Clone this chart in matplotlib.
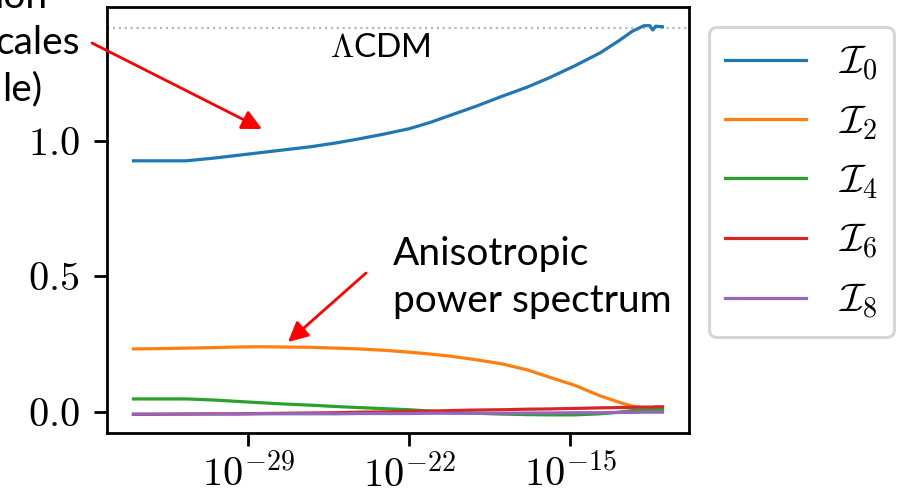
import numpy as np
import matplotlib.pyplot as plt
from matplotlib.ticker import NullLocator

plt.rcParams['font.family'] = 'serif'
plt.rcParams['font.serif'] = ['cmr10']
plt.rcParams['mathtext.fontset'] = 'cm'
plt.rcParams['axes.formatter.use_mathtext'] = True

# log10 of the scale variable
log_k = [-34, -33, -31.7, -30.5, -29.5, -28.5, -27.4, -26.3, -25.2, -24.2, -23.1, -22,
         -21.1, -20.2, -19.1, -18, -16.9, -15.9, -14.8, -13.7, -12.9, -12.3, -11.8,
         -11.55, -11.42, -11.3, -11]
I0 = [0.928, 0.928, 0.928, 0.938, 0.948, 0.958, 0.969, 0.980, 0.994, 1.009, 1.027, 1.047,
      1.070, 1.097, 1.130, 1.166, 1.200, 1.236, 1.280, 1.328, 1.372, 1.408, 1.428,
      1.428, 1.412, 1.426, 1.424]
I2 = [0.232, 0.233, 0.235, 0.237, 0.239, 0.240, 0.239, 0.238, 0.235, 0.232, 0.227, 0.220,
      0.213, 0.205, 0.192, 0.177, 0.155, 0.127, 0.097, 0.058, 0.035, 0.020, 0.014,
      0.013, 0.013, 0.012, 0.012]
I4 = [0.047, 0.047, 0.047, 0.043, 0.038, 0.033, 0.028, 0.024, 0.019, 0.015, 0.011, 0.007,
      0.002, -0.003, -0.006, -0.009, -0.011, -0.012, -0.012, -0.008, -0.002, 0.004, 0.006,
      0.007, 0.007, 0.008, 0.008]
I6 = [-0.010, -0.010, -0.009, -0.008, -0.008, -0.007, -0.006, -0.005, -0.004, -0.002, -0.001, 0.001,
      0.002, 0.004, 0.006, 0.007, 0.009, 0.010, 0.012, 0.014, 0.015, 0.016, 0.017,
      0.017, 0.017, 0.018, 0.018]
I8 = [-0.009, -0.009, -0.009, -0.009, -0.009, -0.008, -0.008, -0.008, -0.008, -0.007, -0.007, -0.007,
      -0.006, -0.006, -0.006, -0.006, -0.005, -0.005, -0.004, -0.004, -0.003, -0.003, -0.002,
      -0.002, -0.002, -0.002, -0.002]
lcdm = 1.42
labels = [r'$\mathcal{I}_0$', r'$\mathcal{I}_2$', r'$\mathcal{I}_4$',
          r'$\mathcal{I}_6$', r'$\mathcal{I}_8$']
xticks = [1e-29, 1e-22, 1e-15]
yticks = [0.0, 0.5, 1.0]

k = 10.0 ** np.array(log_k)

fig = plt.figure(figsize=(9.02, 4.94), dpi=100)
ax = fig.add_axes([0.1186, 0.1235, 0.6452, 0.8623])

ax.axhline(lcdm, ls=':', color='0.72', lw=1.6)
for y, lab in zip([I0, I2, I4, I6, I8], labels):
    ax.plot(k, y, lw=2.3, label=lab)

ax.set_xscale('log')
ax.set_xticks(xticks)
ax.xaxis.set_minor_locator(NullLocator())
ax.set_yticks(yticks)
ax.set_ylim(-0.079, 1.497)
ax.tick_params(labelsize=29, length=9.5, width=2.0, pad=10)
ax.tick_params(axis='x', pad=6)
for s in ax.spines.values():
    s.set_linewidth(2.0)

leg = ax.legend(loc='upper left', bbox_to_anchor=(1, 1), fontsize=29)
leg.get_frame().set_linewidth(2.2)
for h in leg.get_lines():
    h.set_linewidth(2.3)

# slide annotations (pixel positions of the original figure)
H = 494
sans = ['Lato', 'DejaVu Sans']
fig.text(380, H - 57, r'$\Lambda$CDM', family=sans, fontsize=24,
         ha='center', va='baseline', transform=None)
fig.text(393, H - 265, 'Anisotropic', family=sans, fontsize=28,
         va='baseline', transform=None)
fig.text(393, H - 312, 'power spectrum', family=sans, fontsize=28,
         va='baseline', transform=None)
# the slide text on the left is cropped in the original; only these parts show
fig.text(48, H - 8, 'ion', family=sans, fontsize=28,
         ha='right', va='baseline', transform=None)
fig.text(80, H - 54, 'cales', family=sans, fontsize=28,
         ha='right', va='baseline', transform=None)
fig.text(42, H - 100, 'le)', family=sans, fontsize=28,
         ha='right', va='baseline', transform=None)

arrow = dict(arrowstyle='-|>', color='red', lw=2, mutation_scale=30,
             shrinkA=0, shrinkB=0)
ax.annotate('', xy=(262, H - 129), xycoords='figure pixels',
            xytext=(92, H - 43), textcoords='figure pixels', arrowprops=arrow)
ax.annotate('', xy=(288, H - 342), xycoords='figure pixels',
            xytext=(366, H - 273), textcoords='figure pixels', arrowprops=arrow)

fig.savefig('out.png', dpi=100)
